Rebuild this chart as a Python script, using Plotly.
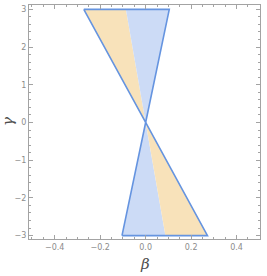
import plotly.graph_objects as go

# Region vertices (beta, gamma)
upper_orange_beta = [-0.272, -0.087, 0.0]
upper_orange_gamma = [3, 3, 0]
upper_blue_beta = [-0.087, 0.104, 0.0]
upper_blue_gamma = [3, 3, 0]
lower_blue_beta = [-0.104, 0.087, 0.0]
lower_blue_gamma = [-3, -3, 0]
lower_orange_beta = [0.087, 0.272, 0.0]
lower_orange_gamma = [-3, -3, 0]
upper_outline_beta = [-0.272, 0.104, 0.0, -0.272]
upper_outline_gamma = [3, 3, 0, 3]
lower_outline_beta = [-0.104, 0.272, 0.0, -0.104]
lower_outline_gamma = [-3, -3, 0, -3]

x_ticks = [-0.4, -0.2, 0.0, 0.2, 0.4]
x_tick_text = ["\u22120.4", "\u22120.2", "0.0", "0.2", "0.4"]
y_ticks = [-3, -2, -1, 0, 1, 2, 3]
y_tick_text = ["\u22123", "\u22122", "\u22121", "0", "1", "2", "3"]

orange = "#F8E2BA"
blue = "#CCDBF6"
edge = "#6594E0"

W, H = 267, 276
ML, MR, MT, MB = 29, 7, 5, 37

fig = go.Figure()
for bx, gy, col in [(upper_orange_beta, upper_orange_gamma, orange),
                    (upper_blue_beta, upper_blue_gamma, blue),
                    (lower_blue_beta, lower_blue_gamma, blue),
                    (lower_orange_beta, lower_orange_gamma, orange)]:
    fig.add_trace(go.Scatter(x=bx, y=gy, fill="toself", fillcolor=col,
                             mode="lines", line=dict(width=0, color=col),
                             hoverinfo="skip", showlegend=False))
for bx, gy in [(upper_outline_beta, upper_outline_gamma),
               (lower_outline_beta, lower_outline_gamma)]:
    fig.add_trace(go.Scatter(x=bx, y=gy, mode="lines",
                             line=dict(width=1.6, color=edge),
                             hoverinfo="skip", showlegend=False))

axis_common = dict(showgrid=False, zeroline=False, showline=True, linecolor="#A3A3A3",
                   linewidth=1, mirror="ticks", ticks="inside", ticklen=4, automargin=False,
                   tickcolor="#A3A3A3", tickfont=dict(family="DejaVu Sans", size=8, color="#8C8C8C"))

pw, ph = W - ML - MR, H - MT - MB

fig.update_layout(
    width=W, height=H,
    margin=dict(l=ML, r=MR, t=MT, b=MB),
    paper_bgcolor="white", plot_bgcolor="white",
    xaxis=dict(range=[-0.513, 0.503], tickvals=x_ticks, ticktext=x_tick_text,
               minor=dict(ticks="inside", ticklen=2, tickcolor="#A3A3A3", dtick=0.05),
               **axis_common),
    yaxis=dict(range=[-3.09, 3.115], tickvals=y_ticks, ticktext=y_tick_text,
               minor=dict(ticks="inside", ticklen=2, tickcolor="#A3A3A3", dtick=0.2),
               **axis_common),
    annotations=[
        dict(text="<i>\u03b2</i>", x=(145 - ML) / pw, y=(H - MB - 264) / ph,
             xref="paper", yref="paper", showarrow=False, xanchor="center", yanchor="middle",
             font=dict(family="DejaVu Serif", size=15, color="#4D4D4D")),
        dict(text="<i>\u03b3</i>", x=(8 - ML) / pw, y=(H - MB - 122) / ph,
             xref="paper", yref="paper", textangle=-90, showarrow=False,
             xanchor="center", yanchor="middle",
             font=dict(family="DejaVu Serif", size=15, color="#4D4D4D")),
    ],
)

fig.write_html("out.html", config={"displayModeBar": False, "staticPlot": True},
               post_script="document.body.style.margin='0';document.body.style.overflow='hidden';")
